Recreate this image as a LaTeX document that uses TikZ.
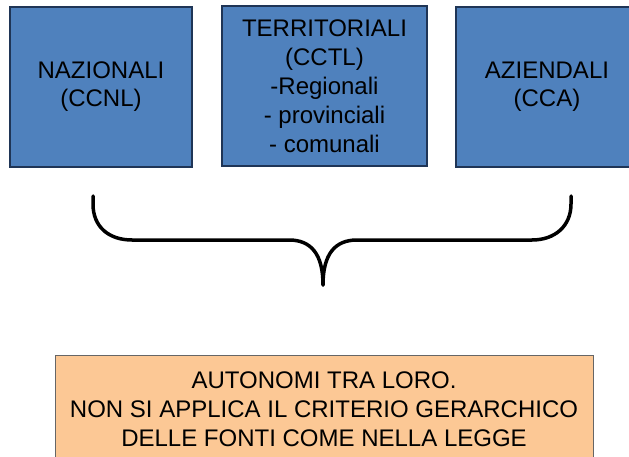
\documentclass[tikz,border=0pt]{standalone}
\usepackage{fontspec}
\setmainfont{Liberation Sans}
\usetikzlibrary{positioning}
\definecolor{boxblue}{HTML}{4F81BD}
\definecolor{boxline}{HTML}{1F3556}
\definecolor{boxorange}{HTML}{FCC895}
\begin{document}
\begin{tikzpicture}[x=1pt,y=-1pt]%
        \useasboundingbox (0,0) rectangle (629,457); %%
        \clip (0,0) rectangle (629,457); %%
        \begin{scope}[shape=rectangle,inner sep=0pt,minimum height=160pt]
        \tikzstyle{every node}=[draw=boxline,fill=boxblue,line width=1.2pt,align=center,font=\fontsize{24}{28}\selectfont] %%
        \node[minimum width=182pt] (naz) at (101,87)  {NAZIONALI\\(CCNL)}; %%
        \node[minimum width=205pt,font=\fontsize{24}{29}\selectfont] (terr) at (324.5,86)  {TERRITORIALI\\(CCTL)\\-Regionali\\- provinciali\\- comunali}; %%
        \node[minimum width=182pt] (azi) at (547,87)  {AZIENDALI\\(CCA)}; %%
        \end{scope}%
        \node[draw=black!60,fill=boxorange,line width=1pt,inner sep=0pt,minimum width=538pt,minimum height=109pt,align=center,font=\fontsize{24}{29}\selectfont] (auto) at (324,409.5) {AUTONOMI TRA LORO.\\NON SI APPLICA IL CRITERIO GERARCHICO\\DELLE FONTI COME NELLA LEGGE}; %%
        % brace
        \coordinate (bl) at (93,196); %%
        \coordinate (tip) at (323,285); %%
        \coordinate (br) at (571,196); %%
        \draw[line width=3.5pt,line cap=round] (bl) -- ++(0,8) .. controls (93,227) and (109,240) .. (132,240) -- (289,240) .. controls (311,240) and (323,254) .. (tip); %%
        \draw[line width=3.5pt,line cap=round] (tip) .. controls (323,254) and (335,240) .. (357,240) -- (532,240) .. controls (555,240) and (571,226) .. (571,204) -- (br); %%
\end{tikzpicture}
\end{document}
